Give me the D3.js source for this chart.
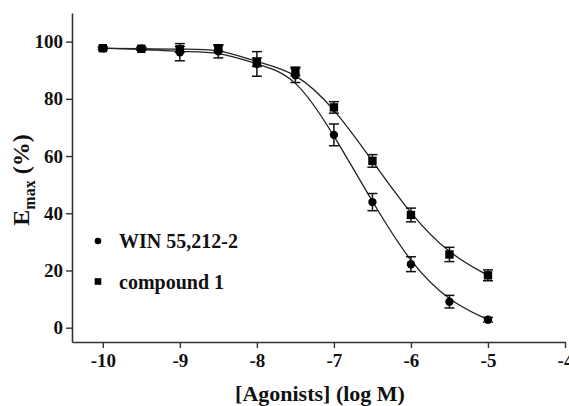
<!DOCTYPE html>
<html>
<head>
<meta charset="utf-8">
<script src="https://cdn.jsdelivr.net/npm/d3@7"></script>
<style>
  body { margin: 0; background: #fff; }
  svg text { font-family: "Liberation Serif", "Times New Roman", serif; font-weight: bold; fill: #111; }
</style>
</head>
<body>
<div id="chart"></div>
<script>
// log concentrations
const logConc = [-10, -9.5, -9, -8.5, -8, -7.5, -7, -6.5, -6, -5.5, -5];
// compound 1 (squares)
const compoundMean = [97.7, 97.5, 97.3, 97.6, 92.8, 89.6, 77.0, 58.3, 39.4, 25.6, 18.3];
const compoundErr = [0.5, 0.5, 1.0, 1.0, 1.5, 1.5, 2.0, 2.2, 2.4, 2.5, 1.9];
// WIN 55,212-2 (circles)
const winMean = [97.7, 97.5, 96.3, 96.6, 92.2, 88.2, 67.4, 43.9, 22.2, 9.1, 2.8];
const winErr = [0.5, 0.5, 3.0, 2.3, 4.3, 2.5, 3.8, 3.0, 2.6, 2.2, 0.8];

const xTicks = [-10, -9, -8, -7, -6, -5, -4];
const yTicks = [0, 20, 40, 60, 80, 100];
const seriesNames = ['WIN 55,212-2', 'compound 1'];

const width = 569, height = 406;
const margin = { top: 13, right: 4, bottom: 64, left: 72 };
const serif = '"Liberation Serif", "Times New Roman", serif';

const svg = d3.select('#chart')
  .append('svg')
  .attr('width', width)
  .attr('height', height);

const x = d3.scaleLinear().domain([-10.4, -4]).range([margin.left, 565]);
const y = d3.scaleLinear().domain([-5, 110]).range([height - margin.bottom, margin.top]);

// axes (plain hyphen for negatives, like the original)
const xAxis = svg.append('g')
  .attr('transform', `translate(0,${height - margin.bottom})`)
  .call(d3.axisBottom(x).tickValues(xTicks).tickFormat(d => String(d))
    .tickSize(6).tickPadding(6).tickSizeOuter(0));
const yAxis = svg.append('g')
  .attr('transform', `translate(${margin.left},0)`)
  .call(d3.axisLeft(y).tickValues(yTicks).tickFormat(d => String(d))
    .tickSize(6).tickPadding(3).tickSizeOuter(0));

[xAxis, yAxis].forEach(g => {
  g.attr('font-family', serif);
  g.select('.domain').attr('stroke', '#333').attr('stroke-width', 1.6);
  g.selectAll('.tick line').attr('stroke', '#333').attr('stroke-width', 1.4);
  g.selectAll('.tick text')
    .style('font-family', serif)
    .style('font-weight', 'bold')
    .style('font-size', '19px')
    .attr('fill', '#111');
});

// axis titles
svg.append('text')
  .attr('x', 320)
  .attr('y', 401)
  .attr('text-anchor', 'middle')
  .style('font-size', '22px')
  .text('[Agonists] (log M)');

const yTitle = svg.append('text')
  .attr('transform', 'translate(29,180) rotate(-90)')
  .attr('text-anchor', 'middle')
  .style('font-size', '24px');
yTitle.append('tspan').text('E');
yTitle.append('tspan').attr('dy', 6).style('font-size', '16px').text('max');
yTitle.append('tspan').attr('dy', -6).text(' (%)');

// smooth curves through the means
const line = d3.line()
  .x((d, i) => x(logConc[i]))
  .y(d => y(d))
  .curve(d3.curveBasis);

[winMean, compoundMean].forEach(vals => {
  svg.append('path')
    .attr('d', line(vals))
    .attr('fill', 'none')
    .attr('stroke', '#222')
    .attr('stroke-width', 1.3);
});

// error bars
function errorBars(means, errs) {
  const g = svg.append('g').attr('stroke', '#111').attr('stroke-width', 1.5);
  means.forEach((m, i) => {
    const cx = x(logConc[i]);
    const top = y(m + errs[i]), bot = y(m - errs[i]);
    g.append('line').attr('x1', cx).attr('x2', cx).attr('y1', top).attr('y2', bot);
    g.append('line').attr('x1', cx - 5).attr('x2', cx + 5).attr('y1', top).attr('y2', top);
    g.append('line').attr('x1', cx - 5).attr('x2', cx + 5).attr('y1', bot).attr('y2', bot);
  });
}
errorBars(winMean, winErr);
errorBars(compoundMean, compoundErr);

// markers
svg.append('g').selectAll('circle')
  .data(winMean)
  .enter()
  .append('circle')
  .attr('cx', (d, i) => x(logConc[i]))
  .attr('cy', d => y(d))
  .attr('r', 4.2)
  .attr('fill', '#000');

svg.append('g').selectAll('rect')
  .data(compoundMean)
  .enter()
  .append('rect')
  .attr('x', (d, i) => x(logConc[i]) - 4.2)
  .attr('y', d => y(d) - 4.2)
  .attr('width', 8.4)
  .attr('height', 8.4)
  .attr('fill', '#000');

// legend
const legend = svg.append('g')
  .selectAll('.legend')
  .data(seriesNames)
  .enter()
  .append('g')
  .attr('class', 'legend')
  .attr('transform', (d, i) => `translate(98,${241 + i * 40.5})`);

legend.each(function (d, i) {
  const g = d3.select(this);
  if (i === 0) {
    g.append('circle').attr('r', 3.3).attr('fill', '#000');
  } else {
    g.append('rect').attr('x', -3.3).attr('y', -3.3).attr('width', 6.6).attr('height', 6.6).attr('fill', '#000');
  }
  g.append('text')
    .attr('x', 21)
    .attr('y', 7)
    .style('font-size', '20px')
    .text(d);
});
</script>
</body>
</html>
